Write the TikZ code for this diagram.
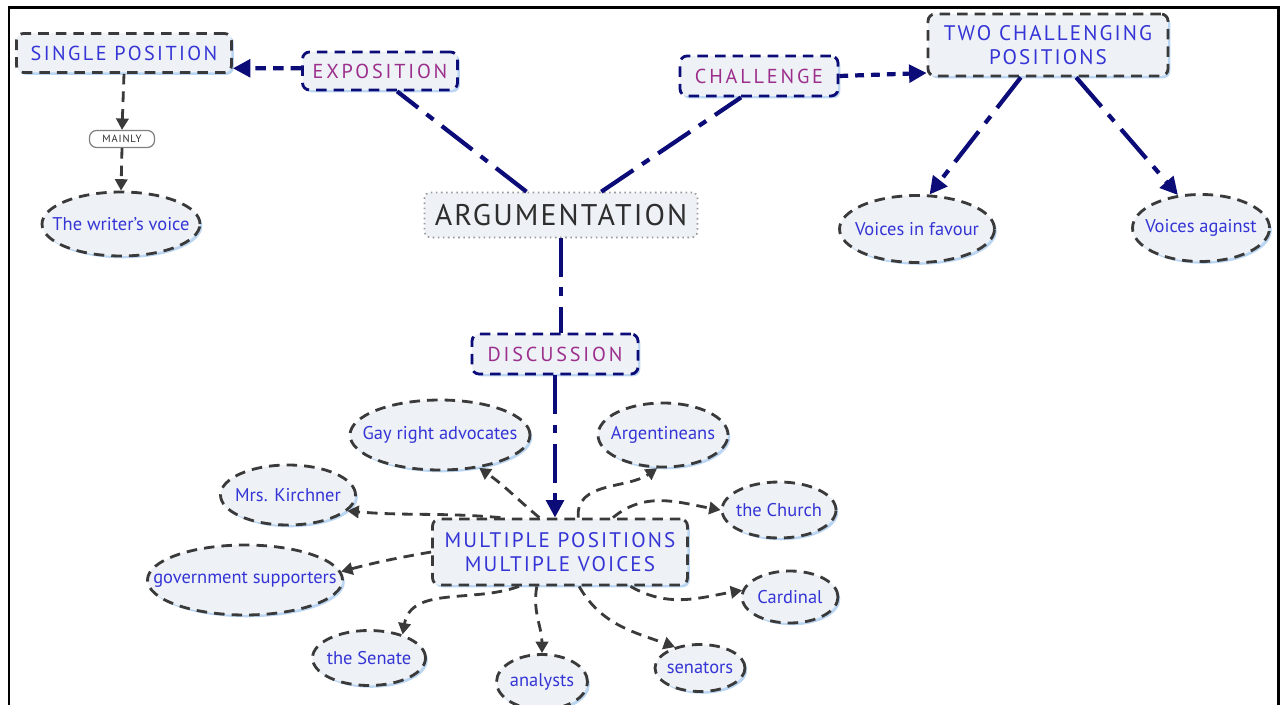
\documentclass[tikz,border=0pt]{standalone}
\usepackage{fontspec}
\setmainfont{PT Sans}
\usetikzlibrary{arrows.meta,shapes.geometric,shadows}
\definecolor{nodefill}{HTML}{EEF2F7}
\definecolor{glow}{HTML}{BBD6F2}
\definecolor{navy}{HTML}{0C0C78}
\definecolor{txtblue}{HTML}{3535D5}
\definecolor{txtpurple}{HTML}{9C2F8C}
\definecolor{lnkgray}{HTML}{3A3A3A}
\definecolor{argtext}{HTML}{2E2E2E}
\tikzset{
  glowshadow/.style={drop shadow={shadow xshift=1.3pt, shadow yshift=-1.3pt, fill=glow, opacity=1}},
  boxbase/.style={rectangle, rounded corners=4pt, fill=nodefill, line width=1.6pt,
    dash pattern=on 6pt off 4pt, inner sep=0pt, align=center, glowshadow},
  blackbox/.style={boxbase, draw=lnkgray, text=txtblue, font=\fontsize{11.5}{13}\selectfont\addfontfeature{LetterSpace=12}},
  navybox/.style={boxbase, draw=navy, text=txtpurple, font=\fontsize{11.5}{13}\selectfont\addfontfeature{LetterSpace=14}},
  voice/.style={ellipse, fill=nodefill, draw=lnkgray, line width=1.6pt,
    dash pattern=on 6pt off 4pt, inner sep=0pt, text=txtblue,
    font=\fontsize{10.5}{12}\selectfont, glowshadow},
  navylink/.style={draw=navy, line width=2.4pt, dash pattern=on 22pt off 6pt on 5pt off 6pt},
  navyarrow/.style={navylink, -{Triangle[length=10pt,width=10pt]}},
  navyshort/.style={draw=navy, line width=2.4pt, dash pattern=on 5pt off 4pt, -{Triangle[length=10pt,width=10pt]}},
  graylink/.style={draw=lnkgray, line width=1.6pt, dash pattern=on 6pt off 4pt, -{Triangle[length=6.5pt,width=7pt]}},
}
\newcommand{\vt}[1]{\makebox[0pt]{#1}}
\begin{document}
\begin{tikzpicture}[x=0.02cm,y=-0.02cm]
\useasboundingbox (0,0) rectangle (1280,705);
\fill[white] (0,0) rectangle (1280,705);
\draw[line width=1.7pt] (9,705) -- (9,8) -- (1278,8) -- (1278,705);

% top left
\node[blackbox, minimum width=4.3cm, minimum height=0.78cm] (single) at (124,53) {SINGLE POSITION};
\node[navybox, minimum width=3.1cm, minimum height=0.76cm] (expo) at (380,71) {EXPOSITION};
\node[rectangle, rounded corners=4pt, draw=gray, line width=0.7pt, fill=white, inner sep=0pt,
  minimum width=1.3cm, minimum height=0.34cm, font=\fontsize{6}{7}\selectfont\addfontfeature{LetterSpace=8}, text=argtext] (mainly) at (122,139) {MAINLY};
\node[voice, minimum width=3.16cm, minimum height=1.28cm] (writer) at (121,224) {\vt{The writer's voice}};

% centre
\node[rectangle, rounded corners=3pt, draw=gray!80, dotted, line width=0.9pt, fill=nodefill, inner sep=0pt,
  minimum width=5.46cm, minimum height=0.9cm, font=\fontsize{17}{19}\selectfont\addfontfeature{LetterSpace=7}, text=argtext] (arg) at (561,215) {ARGUMENTATION};

% top right
\node[navybox, minimum width=3.16cm, minimum height=0.8cm] (chal) at (759,76) {CHALLENGE};
\node[blackbox, minimum width=4.8cm, minimum height=1.24cm, font=\fontsize{12}{14}\selectfont\addfontfeature{LetterSpace=10}] (two) at (1048,45) {TWO CHALLENGING\\POSITIONS};
\node[voice, minimum width=3.1cm, minimum height=1.34cm] (favour) at (917,229) {\vt{Voices in favour}};
\node[voice, minimum width=2.74cm, minimum height=1.34cm] (against) at (1201,228) {\vt{Voices against}};

% discussion
\node[navybox, minimum width=3.32cm, minimum height=0.8cm] (disc) at (555,354) {DISCUSSION};
\node[blackbox, minimum width=5.1cm, minimum height=1.32cm, font=\fontsize{12}{14}\selectfont\addfontfeature{LetterSpace=10}] (mult) at (560,552) {MULTIPLE POSITIONS\\MULTIPLE VOICES};

\node[voice, minimum width=3.6cm, minimum height=1.4cm] (gay) at (440,435) {\vt{Gay right advocates}};
\node[voice, minimum width=2.6cm, minimum height=1.28cm] (argent) at (663,435) {\vt{Argentineans}};
\node[voice, minimum width=2.7cm, minimum height=1.2cm] (kirch) at (288,495) {\vt{Mrs. Kirchner}};
\node[voice, minimum width=2.28cm, minimum height=1.12cm] (church) at (779,510) {\vt{the Church}};
\node[voice, minimum width=3.9cm, minimum height=1.4cm] (gov) at (245,580) {\vt{government supporters}};
\node[voice, minimum width=1.92cm, minimum height=1.04cm] (card) at (790,597) {\vt{Cardinal}};
\node[voice, minimum width=2.26cm, minimum height=1.1cm] (senate) at (369,658) {\vt{the Senate}};
\node[voice, minimum width=1.82cm, minimum height=1.1cm] (anal) at (542,682) {\vt{analysts}};
\node[voice, minimum width=1.8cm, minimum height=0.94cm] (sen) at (700,668) {\vt{senators}};

% navy connectors
\draw[navyshort, dash pattern=on 6pt off 4pt] (expo.178) -- (single.-8);
\draw[navylink] (arg.146) -- (expo.-50);
\draw[navylink] (arg.30) -- (chal.-130);
\draw[navyshort] (chal.east) -- (two.-167);
\draw[navyarrow] (two.-130) -- (favour.70);
\draw[navyarrow] (two.-49) -- (against.125);
\draw[navylink] (arg.south) -- (arg.south |- disc.north);
\draw[navyarrow] (disc.south) -- (disc.south |- mult.north);

% gray connectors
\draw[graylink] (single.south) -- (mainly.north);
\draw[graylink] (mainly.south) -- (writer.north);
\draw[graylink] (mult.121) to[out=140,in=-35] (gay.-40);
\draw[graylink] (mult.62) to[out=95,in=215] (argent.-100);
\draw[graylink] (mult.33) to[out=40,in=170] (church.180);
\draw[graylink] (mult.150) to[out=175,in=-5] (kirch.-15);
\draw[graylink] (mult.west) to[out=190,in=15] (gov.5);
\draw[graylink] (mult.-140) to[out=200,in=80] (senate.35);
\draw[graylink] (mult.-124) to[out=-100,in=90] (anal.north);
\draw[graylink] (mult.-61) to[out=-60,in=160] (sen.140);
\draw[graylink] (mult.-26) to[out=-30,in=190] (card.172);
\end{tikzpicture}
\end{document}
